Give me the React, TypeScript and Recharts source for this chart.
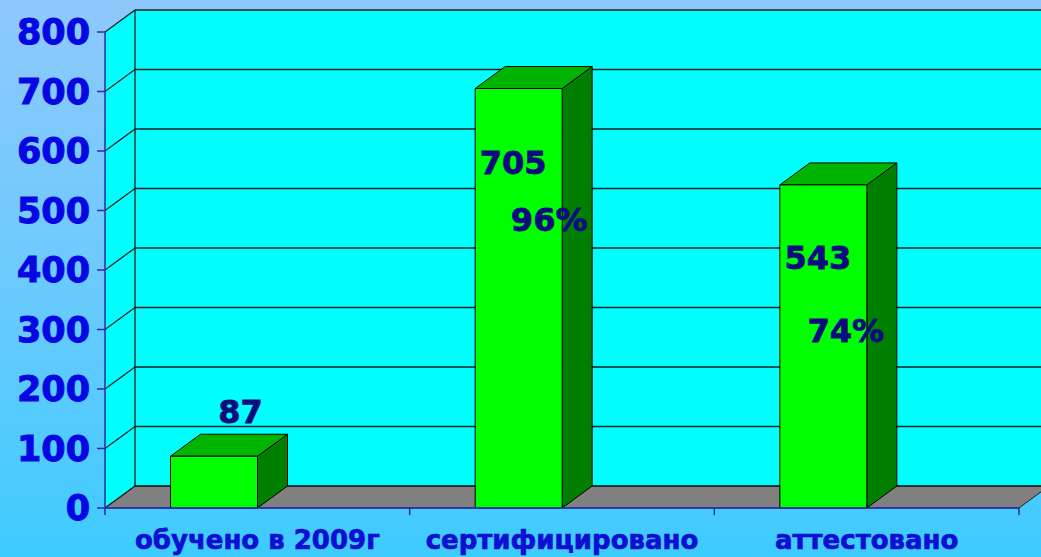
import React from 'react';
import { BarChart, Bar, XAxis, YAxis, ReferenceArea, LabelList } from 'recharts';

// values
const categories = ['обучено в 2009г', 'сертифицировано', 'аттестовано'];
const counts = [87, 705, 543];
const shares = ['', '96%', '74%'];
const yTicks = [0, 100, 200, 300, 400, 500, 600, 700, 800];
const yMax = 800;

const data = categories.map((name, i) => ({ name, count: counts[i], share: shares[i] }));

// oblique depth of the pseudo-3D box
const DX = 30;
const DY = -22;

const FONT = '"DejaVu Sans", Verdana, sans-serif';
const WALL = '#00ffff';
const FLOOR = '#808080';
const GRID = '#1e1e1e';
const AXIS = '#2a2ab4';

// where each label sits relative to the bar's front-left top corner (manual placement on the slide)
const countPos = [
  { dx: 70, dy: -44 },
  { dx: 38, dy: 74 },
  { dx: 38, dy: 73 },
];
const sharePos = [null, { dx: 74, dy: 131 }, { dx: 66, dy: 146 }];

const Box = (props: any) => {
  const { x, y, width: w, height: h } = props;
  const bottom = y + h;
  const lines = yTicks.map((t) => y + h * (1 - t / yMax));
  const edges = categories.map((_, i) => x + (w * i) / categories.length).concat(x + w);
  return (
    <g>
      {/* back wall */}
      <rect x={x + DX} y={y + DY} width={w + 40} height={h} fill={WALL} />
      {/* left wall */}
      <polygon
        points={`${x},${y} ${x + DX},${y + DY} ${x + DX},${bottom + DY} ${x},${bottom}`}
        fill={WALL}
      />
      {/* floor */}
      <polygon
        points={`${x},${bottom} ${x + w},${bottom} ${x + w + DX},${bottom + DY} ${x + DX},${bottom + DY}`}
        fill={FLOOR}
        stroke={GRID}
        strokeWidth={1}
      />
      {lines.map((ly, i) => (
        <g key={i}>
          <line x1={x} y1={ly} x2={x + DX} y2={ly + DY} stroke={GRID} strokeWidth={1.3} />
          <line x1={x + DX} y1={ly + DY} x2={x + w + 60} y2={ly + DY} stroke={GRID} strokeWidth={1.3} />
        </g>
      ))}
      <line x1={x + DX} y1={y + DY} x2={x + DX} y2={bottom + DY} stroke={GRID} strokeWidth={1.3} />
      {/* category boundary ticks */}
      {edges.map((ex, i) => (
        <line key={i} x1={ex} y1={bottom} x2={ex} y2={bottom + 7} stroke={AXIS} strokeWidth={1.5} />
      ))}
    </g>
  );
};

const Column = (props: any) => {
  const { x, y, width, height } = props;
  const left = x - width / 2;
  const right = left + width;
  const bottom = y + height;
  return (
    <g stroke="#000" strokeWidth={1} strokeLinejoin="round">
      <polygon
        points={`${right},${y} ${right + DX},${y + DY} ${right + DX},${bottom + DY} ${right},${bottom}`}
        fill="#007f00"
      />
      <polygon
        points={`${left},${y} ${left + DX},${y + DY} ${right + DX},${y + DY} ${right},${y}`}
        fill="#00b400"
      />
      <rect x={left} y={y} width={width} height={height} fill="#00ff00" />
    </g>
  );
};

const labelStyle = {
  fontFamily: FONT,
  fontWeight: 700,
  fontSize: 32,
  fill: '#0c0c80',
  stroke: '#0c0c80',
  strokeWidth: 0.8,
};

const CountLabel = (props: any) => {
  const vb = props.viewBox ?? props;
  const i = props.index;
  const p = countPos[i];
  if (!p) return null;
  const left = vb.x - vb.width / 2;
  return (
    <text x={left + p.dx} y={vb.y + p.dy} textAnchor="middle" dominantBaseline="central" style={labelStyle}>
      {counts[i]}
    </text>
  );
};

const ShareLabel = (props: any) => {
  const vb = props.viewBox ?? props;
  const i = props.index;
  const p = sharePos[i];
  if (!p || !shares[i]) return null;
  const left = vb.x - vb.width / 2;
  return (
    <text x={left + p.dx} y={vb.y + p.dy} textAnchor="middle" dominantBaseline="central" style={labelStyle}>
      {shares[i]}
    </text>
  );
};

const CategoryTick = (props: any) => {
  const { x, y, payload } = props;
  return (
    <text
      x={x}
      y={y + 41}
      textAnchor="middle"
      style={{ fontFamily: FONT, fontWeight: 700, fontSize: 26, fill: '#0f0fd4', stroke: '#0f0fd4', strokeWidth: 0.7 }}
    >
      {payload.value}
    </text>
  );
};

export default function App() {
  return (
    <div
      style={{
        position: 'absolute',
        left: 0,
        top: 0,
        width: 1041,
        height: 557,
        overflow: 'hidden',
        background: 'linear-gradient(180deg, #8ec8fc 0%, #6ccafd 50%, #3ecbff 100%)',
      }}
    >
      <BarChart
        width={1041}
        height={557}
        data={data}
        margin={{ top: 32, right: 22, bottom: 0, left: 0 }}
        barSize={87}
        style={{ fontFamily: FONT }}
      >
        <ReferenceArea y1={0} y2={yMax} ifOverflow="visible" shape={<Box />} fill="none" stroke="none" />
        <XAxis
          dataKey="name"
          height={49}
          tickLine={false}
          tickSize={0}
          tickMargin={0}
          interval={0}
          axisLine={{ stroke: AXIS, strokeWidth: 1.5 }}
          tick={<CategoryTick />}
        />
        <YAxis
          width={105}
          domain={[0, yMax]}
          ticks={yTicks}
          interval={0}
          tickSize={8}
          tickMargin={7}
          axisLine={{ stroke: AXIS, strokeWidth: 1.5 }}
          tickLine={{ stroke: AXIS, strokeWidth: 1.5 }}
          tick={{ fontFamily: FONT, fontWeight: 700, fontSize: 35, fill: '#0707e4', stroke: '#0707e4', strokeWidth: 1 }}
        />
        <Bar dataKey="count" shape={<Column />} isAnimationActive={false}>
          <LabelList dataKey="count" content={<CountLabel />} />
          <LabelList dataKey="share" content={<ShareLabel />} />
        </Bar>
      </BarChart>
    </div>
  );
}
